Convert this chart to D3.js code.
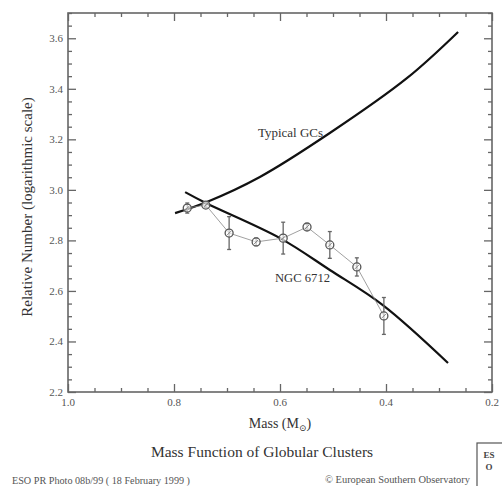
<!DOCTYPE html>
<html><head><meta charset="utf-8">
<script src="https://cdn.jsdelivr.net/npm/d3@7"></script>
<style>body{margin:0;background:#fff}svg{display:block}</style>
</head><body>
<script>
// Data
const xTicks = [1.0, 0.8, 0.6, 0.4, 0.2];
const xTickLabels = ["1.0", "0.8", "0.6", "0.4", "0.2"];
const yTicks = [2.2, 2.4, 2.6, 2.8, 3.0, 3.2, 3.4, 3.6];
const yTickLabels = ["2.2", "2.4", "2.6", "2.8", "3.0", "3.2", "3.4", "3.6"];
const typicalMass = [0.798, 0.738, 0.638, 0.506, 0.36, 0.264];
const typicalValue = [2.908, 2.952, 3.051, 3.225, 3.443, 3.625];
const ngcCurveMass = [0.779, 0.740, 0.6, 0.506, 0.406, 0.283];
const ngcCurveValue = [2.991, 2.948, 2.809, 2.683, 2.544, 2.315];
const obsMass = [0.775, 0.740, 0.696, 0.645, 0.594, 0.549, 0.506, 0.455, 0.404];
const obsValue = [2.928, 2.940, 2.829, 2.794, 2.809, 2.853, 2.782, 2.695, 2.501];
const obsError = [0.02, 0.01, 0.065, 0.015, 0.063, 0.012, 0.053, 0.036, 0.073];

const W = 502, H = 486;
const svg = d3.select("body").append("svg").attr("width", W).attr("height", H)
  .style("font-family", "'Liberation Serif', 'DejaVu Serif', serif");

const L = 68, R = 492, T = 13, B = 392;
const x = d3.scaleLinear().domain([1.0, 0.2]).range([L, R]);
const y = d3.scaleLinear().domain([2.2, 3.7]).range([B, T]);

const axisCol = "#666";
svg.append("rect").attr("x", L).attr("y", T).attr("width", R - L).attr("height", B - T)
  .attr("fill", "none").attr("stroke", axisCol).attr("stroke-width", 1.6);

const xMinor = d3.range(0, 17).map(i => 1.0 - i * 0.05);
const yMinor = d3.range(0, 31).map(i => 2.2 + i * 0.05);
function isMajor(v, arr) { return arr.some(a => Math.abs(a - v) < 1e-6); }

const gxB = svg.append("g").attr("transform", `translate(0,${B})`)
  .call(d3.axisTop(x).tickValues(xMinor).tickSize(4).tickFormat(""));
const gxT = svg.append("g").attr("transform", `translate(0,${T})`)
  .call(d3.axisBottom(x).tickValues(xMinor).tickSize(4).tickFormat(""));
const gyL = svg.append("g").attr("transform", `translate(${L},0)`)
  .call(d3.axisRight(y).tickValues(yMinor).tickSize(4).tickFormat(""));
const gyR = svg.append("g").attr("transform", `translate(${R},0)`)
  .call(d3.axisLeft(y).tickValues(yMinor).tickSize(4).tickFormat(""));
[gxB, gxT, gyL, gyR].forEach(g => {
  g.select(".domain").remove();
  g.selectAll("line").attr("stroke", axisCol).attr("stroke-width", 1.3);
});
gxB.selectAll(".tick").filter(d => isMajor(d, xTicks)).select("line").attr("y2", -8);
gxT.selectAll(".tick").filter(d => isMajor(d, xTicks)).select("line").attr("y2", 8);
gyL.selectAll(".tick").filter(d => isMajor(d, yTicks)).select("line").attr("x2", 8);
gyR.selectAll(".tick").filter(d => isMajor(d, yTicks)).select("line").attr("x2", -8);

svg.append("g").selectAll("text").data(xTicks).join("text")
  .attr("x", d => x(d)).attr("y", B + 14).attr("text-anchor", "middle")
  .attr("font-size", 11).attr("fill", "#555").text((d, i) => xTickLabels[i]);
svg.append("g").selectAll("text").data(yTicks).join("text")
  .attr("x", L - 5).attr("y", d => y(d) + 4).attr("text-anchor", "end")
  .attr("font-size", 11).attr("fill", "#555").text((d, i) => yTickLabels[i]);

const mt = svg.append("text").attr("x", 280).attr("y", 428).attr("text-anchor", "middle")
  .attr("font-size", 14).attr("fill", "#333");
mt.append("tspan").text("Mass (M");
mt.append("tspan").attr("font-size", 9).attr("dy", 3).text("\u2299");
mt.append("tspan").attr("dy", -3).text(")");
svg.append("text").attr("transform", "translate(32,207) rotate(-90)").attr("text-anchor", "middle")
  .attr("font-size", 15).attr("fill", "#333").text("Relative Number (logarithmic scale)");
svg.append("text").attr("x", 262).attr("y", 457).attr("text-anchor", "middle")
  .attr("font-size", 15.5).attr("fill", "#333").text("Mass Function of Globular Clusters");

svg.append("text").attr("x", 12).attr("y", 484).attr("font-size", 10).attr("fill", "#555")
  .attr("textLength", 178).attr("lengthAdjust", "spacingAndGlyphs")
  .text("ESO PR Photo 08b/99 ( 18 February 1999 )");
svg.append("text").attr("x", 325).attr("y", 483).attr("font-size", 10).attr("fill", "#555")
  .attr("textLength", 145).attr("lengthAdjust", "spacingAndGlyphs")
  .text("\u00A9 European Southern Observatory");
svg.append("rect").attr("x", 477).attr("y", 443).attr("width", 30).attr("height", 48)
  .attr("fill", "none").attr("stroke", "#555").attr("stroke-width", 1.2);
svg.append("text").attr("x", 489).attr("y", 458).attr("text-anchor", "middle").attr("font-size", 9).attr("font-weight", "bold").attr("fill", "#444").text("ES");
svg.append("text").attr("x", 489).attr("y", 470).attr("text-anchor", "middle").attr("font-size", 9).attr("font-weight", "bold").attr("fill", "#444").text("O");

const line = d3.line().x(d => x(d[0])).y(d => y(d[1])).curve(d3.curveCatmullRom.alpha(0.5));
svg.append("path").datum(typicalMass.map((m, i) => [m, typicalValue[i]]))
  .attr("d", line).attr("fill", "none").attr("stroke", "#111").attr("stroke-width", 2.2);
svg.append("path").datum(ngcCurveMass.map((m, i) => [m, ngcCurveValue[i]]))
  .attr("d", line).attr("fill", "none").attr("stroke", "#111").attr("stroke-width", 2.2);

const obs = obsMass.map((m, i) => ({ m, v: obsValue[i], e: obsError[i] }));
svg.append("path").datum(obs)
  .attr("d", d3.line().x(d => x(d.m)).y(d => y(d.v)))
  .attr("fill", "none").attr("stroke", "#888").attr("stroke-width", 0.8);
const eg = svg.append("g").attr("stroke", "#666").attr("stroke-width", 1.3);
eg.selectAll("line.eb").data(obs).join("line").attr("class", "eb")
  .attr("x1", d => x(d.m)).attr("x2", d => x(d.m))
  .attr("y1", d => y(d.v + d.e)).attr("y2", d => y(d.v - d.e));
eg.selectAll("line.cap1").data(obs).join("line").attr("class", "cap1")
  .attr("x1", d => x(d.m) - 2).attr("x2", d => x(d.m) + 2)
  .attr("y1", d => y(d.v + d.e)).attr("y2", d => y(d.v + d.e));
eg.selectAll("line.cap2").data(obs).join("line").attr("class", "cap2")
  .attr("x1", d => x(d.m) - 2).attr("x2", d => x(d.m) + 2)
  .attr("y1", d => y(d.v - d.e)).attr("y2", d => y(d.v - d.e));
svg.append("g").selectAll("circle").data(obs).join("circle")
  .attr("cx", d => x(d.m)).attr("cy", d => y(d.v)).attr("r", 4)
  .attr("fill", "#fff").attr("fill-opacity", 0.6).attr("stroke", "#555").attr("stroke-width", 1.3);
svg.append("g").selectAll("line").data(obs).join("line")
  .attr("x1", d => x(d.m) - 2).attr("x2", d => x(d.m) + 2)
  .attr("y1", d => y(d.v) + 2).attr("y2", d => y(d.v) - 2)
  .attr("stroke", "#777").attr("stroke-width", 0.9);

svg.append("text").attr("x", 258).attr("y", 137).attr("font-size", 12.5).attr("fill", "#333")
  .attr("textLength", 65).attr("lengthAdjust", "spacingAndGlyphs").text("Typical GCs");
svg.append("text").attr("x", 275).attr("y", 282).attr("font-size", 12).attr("fill", "#333")
  .attr("textLength", 55).attr("lengthAdjust", "spacingAndGlyphs").text("NGC 6712");
</script>
</body></html>
